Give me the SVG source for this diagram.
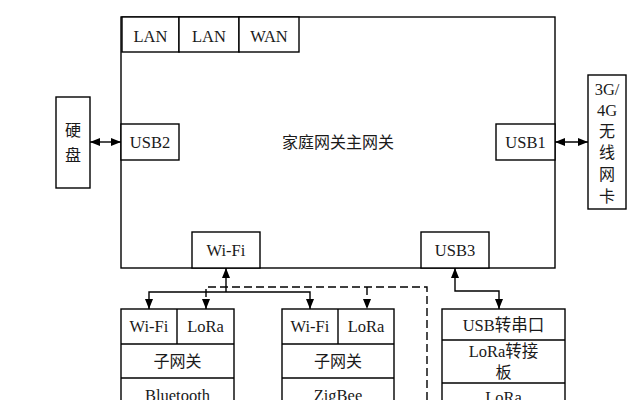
<svg xmlns="http://www.w3.org/2000/svg" width="630" height="400" viewBox="0 0 630 400">
<defs>
<style>
.b{fill:#fff;stroke:#000;stroke-width:1.4}
.t{font-family:"Liberation Serif","Noto Sans CJK SC",serif;font-size:16.5px;fill:#1a1a1a;text-anchor:middle}
.c{font-family:"Noto Sans CJK SC","Liberation Serif",sans-serif;font-size:16px;fill:#1a1a1a;text-anchor:middle}
.l{fill:none;stroke:#000;stroke-width:1.4}
.d{fill:none;stroke:#000;stroke-width:1.4;stroke-dasharray:8 4}
</style>
<marker id="a" markerUnits="userSpaceOnUse" markerWidth="10" markerHeight="8" refX="10" refY="4" orient="auto-start-reverse" viewBox="0 0 10 8">
<path d="M0,0 L10,4 L0,8 z" fill="#000"/>
</marker>
</defs>
<rect width="630" height="400" fill="#fff"/>
<g id="gateway">
<rect class="b" x="121" y="17" width="434" height="251"/>
<text class="c" x="338" y="148" font-size="17">家庭网关主网关</text>
</g>
<g id="lan1"><rect class="b" x="122" y="17" width="57" height="35"/><text class="t" x="150.5" y="41.5">LAN</text></g>
<g id="lan2"><rect class="b" x="179" y="17" width="60" height="35"/><text class="t" x="209" y="41.5">LAN</text></g>
<g id="wan"><rect class="b" x="239" y="17" width="60" height="35"/><text class="t" x="269" y="41.5">WAN</text></g>
<g id="usb2"><rect class="b" x="121" y="124" width="58" height="36"/><text class="t" x="150" y="148">USB2</text></g>
<g id="usb1"><rect class="b" x="496" y="124" width="59" height="36"/><text class="t" x="525.5" y="148">USB1</text></g>
<g id="wifi"><rect class="b" x="192" y="232" width="68" height="36"/><text class="t" x="226" y="256">Wi-Fi</text></g>
<g id="usb3"><rect class="b" x="421" y="232" width="68" height="36"/><text class="t" x="455" y="256">USB3</text></g>
<g id="disk">
<rect class="b" x="56" y="97" width="34" height="91"/>
<text class="c" x="73" y="136">硬</text>
<text class="c" x="73" y="161">盘</text>
</g>
<g id="card">
<rect class="b" x="588" y="75" width="38" height="134"/>
<text class="t" x="607" y="95">3G/</text>
<text class="t" x="607" y="116">4G</text>
<text class="c" x="607" y="137" font-size="15">无</text>
<text class="c" x="607" y="158" font-size="15">线</text>
<text class="c" x="607" y="180" font-size="15">网</text>
<text class="c" x="607" y="202" font-size="15">卡</text>
</g>
<g id="sub1">
<rect class="b" x="121" y="309" width="113" height="100"/>
<line class="l" x1="177" y1="309" x2="177" y2="344"/>
<line class="l" x1="121" y1="344" x2="234" y2="344"/>
<line class="l" x1="121" y1="378" x2="234" y2="378"/>
<text class="t" x="149" y="332">Wi-Fi</text>
<text class="t" x="205.5" y="332">LoRa</text>
<text class="c" x="177.5" y="367">子网关</text>
<text class="t" x="177.5" y="401">Bluetooth</text>
</g>
<g id="sub2">
<rect class="b" x="282" y="309" width="112" height="100"/>
<line class="l" x1="338" y1="309" x2="338" y2="344"/>
<line class="l" x1="282" y1="344" x2="394" y2="344"/>
<line class="l" x1="282" y1="378" x2="394" y2="378"/>
<text class="t" x="310" y="332">Wi-Fi</text>
<text class="t" x="366" y="332">LoRa</text>
<text class="c" x="338" y="367">子网关</text>
<text class="t" x="338" y="401">ZigBee</text>
</g>
<g id="adapter">
<rect class="b" x="442" y="309" width="123" height="100"/>
<line class="l" x1="442" y1="340" x2="565" y2="340"/>
<line class="l" x1="442" y1="383" x2="565" y2="383"/>
<text class="t" x="503.5" y="331">USB<tspan font-family="Noto Sans CJK SC">转串口</tspan></text>
<text class="t" x="503.5" y="357">LoRa<tspan font-family="Noto Sans CJK SC">转接</tspan></text>
<text class="c" x="503.5" y="378">板</text>
<text class="t" x="503.5" y="403">LoRa</text>
</g>
<g id="connectors">
<line class="l" x1="90" y1="142" x2="121" y2="142" marker-start="url(#a)" marker-end="url(#a)"/>
<line class="l" x1="555" y1="142" x2="588" y2="142" marker-start="url(#a)" marker-end="url(#a)"/>
<line class="l" x1="226" y1="292" x2="226" y2="268" marker-end="url(#a)"/>
<polyline class="l" points="149,309 149,292 310,292 310,309" marker-start="url(#a)" marker-end="url(#a)"/>
<polyline class="d" points="206,309 206,287 427,287 427,400" marker-start="url(#a)"/>
<line class="d" x1="367" y1="287" x2="367" y2="309" marker-end="url(#a)"/>
<polyline class="l" points="455,268 455,291 499,291 499,309" marker-start="url(#a)" marker-end="url(#a)"/>
</g>
</svg>
